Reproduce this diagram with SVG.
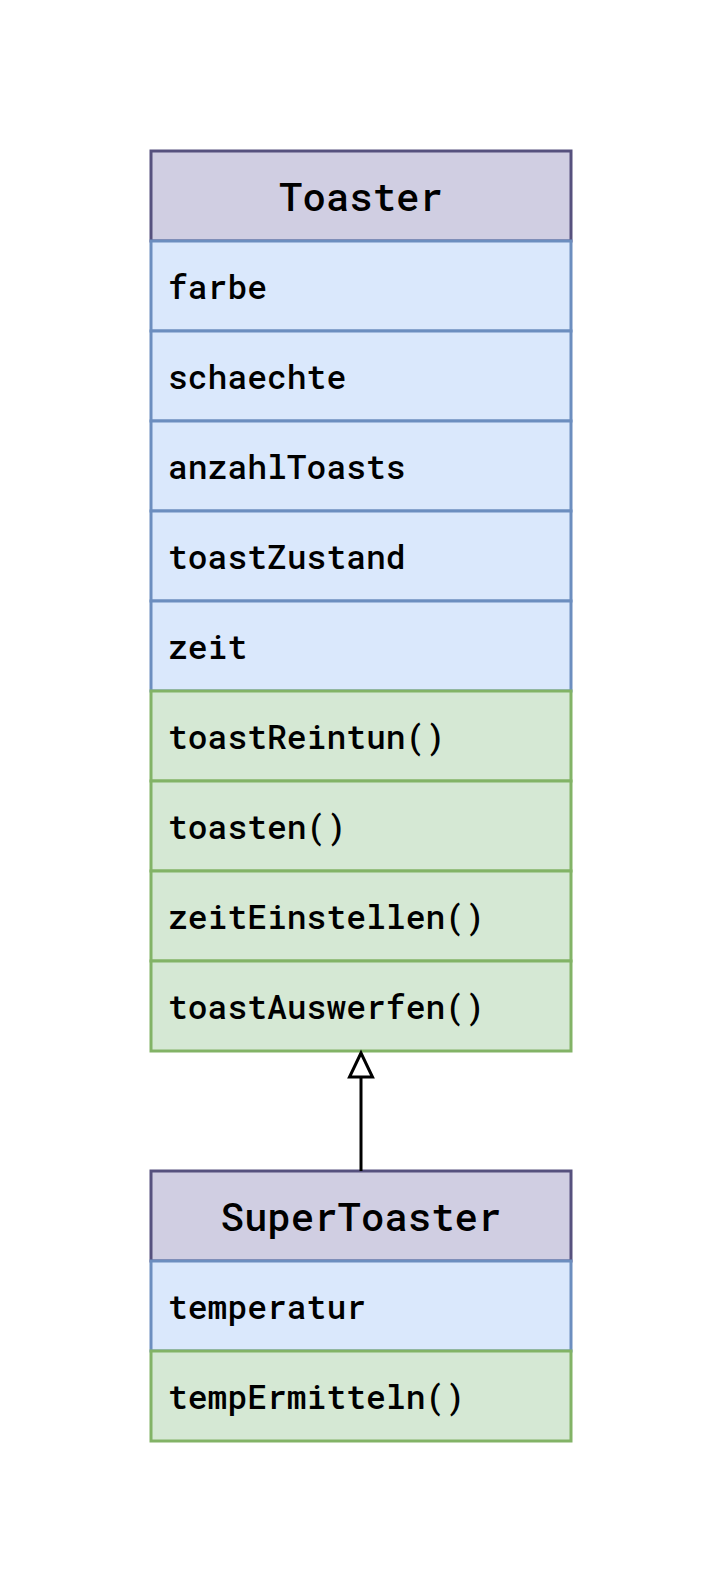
<svg xmlns="http://www.w3.org/2000/svg" width="723" height="1593" viewBox="0 0 723 1593">
<style>
.hd{fill:#d0cee2;stroke:#56517e;stroke-width:3}
.at{fill:#dae8fc;stroke:#6c8ebf;stroke-width:3}
.me{fill:#d5e8d4;stroke:#82b366;stroke-width:3}
text{font-family:"Roboto Mono","DejaVu Sans Mono","Liberation Mono",monospace;fill:#000;font-weight:500}
.t{font-size:39px;text-anchor:middle}
.r{font-size:33px}
.edge{stroke:#000;stroke-width:3;fill:none}
.head{fill:#fff;stroke:#000;stroke-width:3}
</style>
<rect width="723" height="1593" fill="#fff"/>
<g id="Toaster">
<rect class="hd" x="151" y="151" width="420" height="90"/>
<text class="t" x="361" y="211">Toaster</text>
<rect class="at" x="151" y="241" width="420" height="90"/>
<text class="r" x="168" y="299">farbe</text>
<rect class="at" x="151" y="331" width="420" height="90"/>
<text class="r" x="168" y="389">schaechte</text>
<rect class="at" x="151" y="421" width="420" height="90"/>
<text class="r" x="168" y="479">anzahlToasts</text>
<rect class="at" x="151" y="511" width="420" height="90"/>
<text class="r" x="168" y="569">toastZustand</text>
<rect class="at" x="151" y="601" width="420" height="90"/>
<text class="r" x="168" y="659">zeit</text>
<rect class="me" x="151" y="691" width="420" height="90"/>
<text class="r" x="168" y="749">toastReintun()</text>
<rect class="me" x="151" y="781" width="420" height="90"/>
<text class="r" x="168" y="839">toasten()</text>
<rect class="me" x="151" y="871" width="420" height="90"/>
<text class="r" x="168" y="929">zeitEinstellen()</text>
<rect class="me" x="151" y="961" width="420" height="90"/>
<text class="r" x="168" y="1019">toastAuswerfen()</text>
</g>
<g id="SuperToaster">
<rect class="hd" x="151" y="1171" width="420" height="90"/>
<text class="t" x="361" y="1231">SuperToaster</text>
<rect class="at" x="151" y="1261" width="420" height="90"/>
<text class="r" x="168" y="1319">temperatur</text>
<rect class="me" x="151" y="1351" width="420" height="90"/>
<text class="r" x="168" y="1409">tempErmitteln()</text>
</g>
<g id="connectors">
<path class="edge" d="M361 1171 L361 1077"/>
<polygon class="head" points="361,1053 349.5,1077 372.5,1077"/>
</g>
</svg>
